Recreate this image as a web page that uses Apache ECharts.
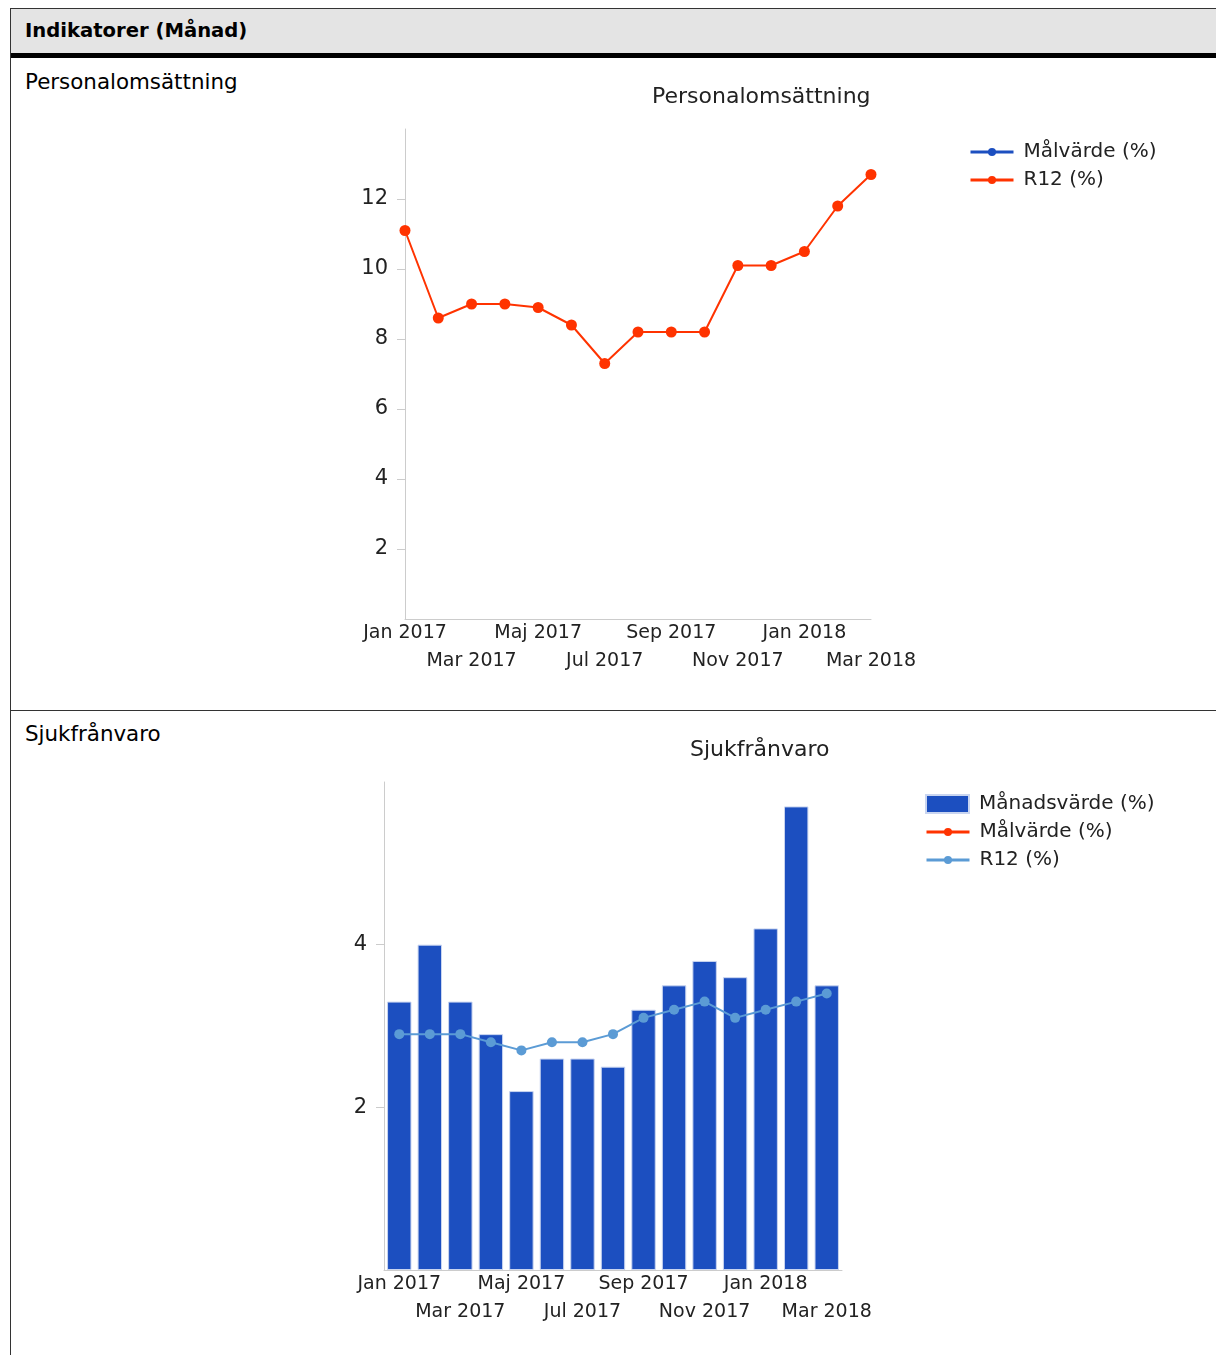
<!DOCTYPE html>
<html>
<head>
<meta charset="utf-8">
<script src="https://cdn.jsdelivr.net/npm/echarts@6/dist/echarts.min.js"></script>
<style>
  body { margin: 0; background: #fff; font-family: "DejaVu Sans", sans-serif; }
  .box { position: absolute; left: 10px; top: 8px; width: 1300px; height: 1400px;
         border-left: 1px solid #333; border-top: 1px solid #333; }
  .head { position: absolute; left: 0; top: 0; right: 0; height: 44px; background: #e4e4e4;
          border-bottom: 5px solid #000; }
  .head span { position: absolute; left: 14px; top: 10px; font-weight: bold; font-size: 19.6px; color: #000; }
  .lbl { position: absolute; left: 14px; font-size: 21.4px; color: #000; }
  .sep { position: absolute; left: 0; right: 0; top: 701px; height: 1px; background: #333; }
  #chart { position: absolute; left: 0; top: 0; width: 1216px; height: 1355px; }
</style>
</head>
<body>
<div class="box">
  <div class="head"><span>Indikatorer (Månad)</span></div>
  <div class="lbl" style="top:60px">Personalomsättning</div>
  <div class="sep"></div>
  <div class="lbl" style="top:712px">Sjukfrånvaro</div>
</div>
<div id="chart"></div>
<script>
// månader
const months = ['Jan 2017','Feb 2017','Mar 2017','Apr 2017','Maj 2017','Jun 2017','Jul 2017','Aug 2017',
  'Sep 2017','Okt 2017','Nov 2017','Dec 2017','Jan 2018','Feb 2018','Mar 2018']
// personalomsättning
const turnoverR12 = [11.1, 8.6, 9.0, 9.0, 8.9, 8.4, 7.3, 8.2, 8.2, 8.2, 10.1, 10.1, 10.5, 11.8, 12.7]
const turnoverTarget = []
// sjukfrånvaro
const sickMonth = [3.3, 4.0, 3.3, 2.9, 2.2, 2.6, 2.6, 2.5, 3.2, 3.5, 3.8, 3.6, 4.2, 5.7, 3.5]
const sickTarget = []
const sickR12 = [2.9, 2.9, 2.9, 2.8, 2.7, 2.8, 2.8, 2.9, 3.1, 3.2, 3.3, 3.1, 3.2, 3.3, 3.4]

const FONT = 'DejaVu Sans'
const BLUE = '#1c4fc0'
const RED = '#ff3300'
const LIGHT = '#5b9bd5'
const AXIS = '#cccccc'

//varannan månad, i två rader
const xLabel = (value, index) => {
  if (index % 4 === 0) return value
  if (index % 4 === 2) return '\n' + value
  return ''
}

const xAxisBase = (gridIndex, gap) => ({
  type: 'category',
  gridIndex: gridIndex,
  data: months,
  boundaryGap: gap,
  axisLine: { lineStyle: { color: AXIS, width: 1 } },
  axisTick: { show: false },
  axisLabel: {
    interval: 0,
    margin: 0,
    formatter: xLabel,
    color: '#222',
    fontFamily: FONT,
    fontSize: 19,
    lineHeight: 28
  }
})

const yAxisBase = (gridIndex, max) => ({
  type: 'value',
  gridIndex: gridIndex,
  min: 0,
  max: max,
  interval: 2,
  splitLine: { show: false },
  axisLine: { show: true, lineStyle: { color: AXIS, width: 1 } },
  axisTick: { show: true, length: 8, lineStyle: { color: AXIS } },
  axisLabel: {
    showMinLabel: false,
    showMaxLabel: false,
    margin: 17,
    color: '#222',
    fontFamily: FONT,
    fontSize: 21
  }
})

const legendText = { color: '#222', fontFamily: FONT, fontSize: 20, lineHeight: 20, padding: [0, 0, 0, 5] }

const myChart = echarts.init(document.getElementById('chart'))
const option = {
  animation: false,
  title: [
    { text: 'Personalomsättning', left: 652, top: 86, padding: 0,
      textStyle: { fontFamily: FONT, fontSize: 22, fontWeight: 'normal', color: '#222' } },
    { text: 'Sjukfrånvaro', left: 690, top: 739, padding: 0,
      textStyle: { fontFamily: FONT, fontSize: 22, fontWeight: 'normal', color: '#222' } }
  ],
  legend: [
    { orient: 'vertical', left: 969, top: 142, padding: 0, itemGap: 8, itemWidth: 43, itemHeight: 10,
      data: ['Målvärde (%)', 'R12 (%)'], textStyle: legendText,
      lineStyle: { width: 3 } },
    { orient: 'vertical', left: 925, top: 794, padding: 0, itemGap: 10, itemWidth: 43, itemHeight: 18,
      data: [{ name: 'Månadsvärde (%)', icon: 'rect' }], textStyle: legendText },
    { orient: 'vertical', left: 925, top: 822, padding: 0, itemGap: 8, itemWidth: 43, itemHeight: 10,
      data: ['Målvärde (%) ', 'R12 (%) '], textStyle: legendText,
      lineStyle: { width: 3 } }
  ],
  grid: [
    { left: 405, top: 129, width: 466, height: 490 },
    { left: 384, top: 782, width: 458, height: 488 }
  ],
  xAxis: [xAxisBase(0, false), xAxisBase(1, true)],
  yAxis: [yAxisBase(0, 14), yAxisBase(1, 6)],
  series: [
    {
      name: 'Målvärde (%)',
      type: 'line',
      xAxisIndex: 0, yAxisIndex: 0,
      color: BLUE,
      symbol: 'circle',
      symbolSize: 10,
      data: turnoverTarget
    },
    {
      name: 'R12 (%)',
      type: 'line',
      xAxisIndex: 0, yAxisIndex: 0,
      color: RED,
      symbol: 'circle',
      symbolSize: 11,
      lineStyle: { width: 2 },
      data: turnoverR12
    },
    {
      name: 'Månadsvärde (%)',
      type: 'bar',
      xAxisIndex: 1, yAxisIndex: 1,
      barCategoryGap: '20%',
      itemStyle: { color: BLUE, borderColor: '#c9d5f0', borderWidth: 1 },
      data: sickMonth
    },
    {
      name: 'Målvärde (%) ',
      type: 'line',
      xAxisIndex: 1, yAxisIndex: 1,
      color: RED,
      symbol: 'circle',
      symbolSize: 10,
      data: sickTarget
    },
    {
      name: 'R12 (%) ',
      type: 'line',
      xAxisIndex: 1, yAxisIndex: 1,
      color: LIGHT,
      symbol: 'circle',
      symbolSize: 10,
      lineStyle: { width: 2 },
      data: sickR12
    }
  ]
}
option && myChart.setOption(option)
</script>
</body>
</html>
